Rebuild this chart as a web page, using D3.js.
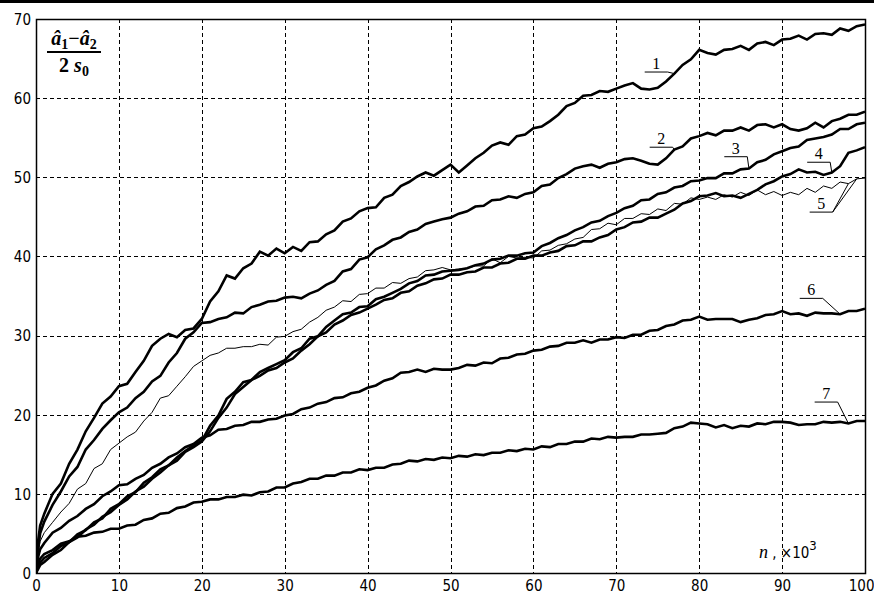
<!DOCTYPE html>
<html>
<head>
<meta charset="utf-8">
<script src="https://cdn.jsdelivr.net/npm/d3@7"></script>
<style>
  html, body { margin: 0; padding: 0; background: #fff; }
  svg { display: block; }
</style>
</head>
<body>
<svg id="chart" width="874" height="594"></svg>
<script>
// sample positions along n (thousands)
const nValues = [0, 0.25, 0.5,
  1, 2, 3, 4, 5, 6, 7, 8, 9, 10,
  11, 12, 13, 14, 15, 16, 17, 18, 19, 20,
  21, 22, 23, 24, 25, 26, 27, 28, 29, 30,
  31, 32, 33, 34, 35, 36, 37, 38, 39, 40,
  41, 42, 43, 44, 45, 46, 47, 48, 49, 50,
  51, 52, 53, 54, 55, 56, 57, 58, 59, 60,
  61, 62, 63, 64, 65, 66, 67, 68, 69, 70,
  71, 72, 73, 74, 75, 76, 77, 78, 79, 80,
  81, 82, 83, 84, 85, 86, 87, 88, 89, 90,
  91, 92, 93, 94, 95, 96, 97, 98, 99, 100];

const curve1 = [0, 4, 6,
  7.5, 10, 11.3, 13.8, 15.6, 17.9, 19.6, 21.4, 22.3, 23.6,
  23.9, 25.4, 26.8, 28.7, 29.6, 30.2, 29.8, 30.7, 30.9, 32.1,
  34.3, 35.6, 37.6, 37.2, 38.5, 39.1, 40.6, 40.1, 41, 40.4,
  41.2, 40.7, 41.8, 41.9, 42.8, 43.3, 44.4, 44.8, 45.7, 46.1,
  46.2, 47.4, 47.8, 48.9, 49.4, 50.1, 50.6, 50.2, 50.9, 51.6,
  50.6, 51.5, 52.4, 53.1, 54, 54.4, 54.1, 55.2, 55.4, 56.2,
  56.4, 57.1, 57.9, 59, 59.4, 60.3, 60.4, 60.9, 60.8, 61.2,
  61.6, 61.9, 61.2, 61.1, 61.3, 62.1, 63.1, 64.2, 64.9, 66.1,
  65.7, 65.5, 66.1, 66.2, 66.6, 66.1, 66.9, 67.1, 66.7, 67.4,
  67.5, 67.9, 67.4, 68.1, 68.2, 68, 68.8, 68.5, 69.1, 69.3];

const curve2 = [0, 3, 5,
  6.5, 8.6, 10.3, 12.2, 13.4, 15.6, 16.8, 18.2, 19.3, 20.3,
  20.9, 22.1, 22.9, 24.2, 24.9, 26.6, 27.8, 29.6, 30.4, 31.6,
  31.7, 32.1, 32.3, 32.9, 32.8, 33.6, 33.9, 34.3, 34.4, 34.8,
  34.9, 34.7, 35.3, 35.7, 36.4, 36.9, 38.1, 38.4, 39.6, 39.9,
  40.9, 41.4, 42.1, 42.4, 43.1, 43.4, 44.1, 44.4, 44.7, 44.9,
  45.4, 45.7, 46.3, 46.4, 47.1, 47.2, 47.6, 47.4, 47.9, 48.1,
  48.9, 49.1, 49.9, 50.4, 51.1, 51.4, 51.6, 51.2, 51.7, 51.9,
  52.3, 52.4, 52.1, 51.7, 51.6, 52.4, 53.5, 53.9, 54.9, 55.2,
  55.6, 55.3, 55.9, 55.9, 56.3, 55.9, 56.6, 56.7, 56.3, 56.7,
  56.1, 55.9, 56.2, 56.9, 56.3, 57.1, 57.4, 57.9, 57.9, 58.3];

const curve3 = [0, 0.8, 1.3,
  1.9, 2.5, 3.4, 3.9, 4.9, 5.4, 6.4, 6.9, 8.1, 8.7,
  9.7, 10.2, 11.4, 12.1, 13.1, 13.6, 14.6, 15.4, 16.1, 16.7,
  18.6, 19.9, 22, 22.9, 24.1, 24.4, 25.4, 25.9, 26.4, 26.9,
  27.9, 28.4, 29.6, 29.9, 31.1, 31.9, 32.7, 32.9, 33.6, 33.7,
  34.6, 34.9, 35.4, 35.9, 36.6, 36.9, 37.6, 37.7, 38.1, 38.2,
  38.3, 38.5, 38.9, 39.1, 39.6, 39.7, 40.1, 40.1, 40.4, 40.5,
  41.3, 41.7, 42.3, 42.7, 43.3, 43.7, 44.3, 44.5, 45.1, 45.5,
  46.1, 46.4, 47.1, 47.2, 47.9, 48.1, 48.7, 48.9, 49.5, 49.6,
  49.9, 49.9, 50.5, 50.5, 51, 51.1, 51.9, 52.2, 52.9, 53.3,
  53.7, 53.9, 54.7, 54.9, 55.1, 55.4, 56.1, 56.1, 56.7, 56.9];

const curve4 = [0, 0.5, 1,
  1.4, 2.3, 2.9, 3.9, 4.5, 5.5, 6.1, 7.1, 7.7, 8.6,
  9.3, 10.3, 10.9, 11.9, 12.7, 13.6, 14.2, 15.3, 15.9, 16.6,
  17.9, 19.6, 20.9, 22.6, 23.5, 24.4, 24.9, 25.6, 25.9, 26.6,
  27.1, 28.1, 28.9, 29.9, 30.4, 31.4, 31.9, 32.6, 32.9, 33.4,
  33.9, 34.5, 34.7, 35.4, 35.6, 36.3, 36.6, 37.1, 37.2, 37.7,
  37.7, 38, 38.1, 38.6, 38.6, 39.1, 39.2, 39.7, 39.7, 40.1,
  40.1, 40.5, 40.7, 41.3, 41.4, 41.9, 41.9, 42.4, 42.7, 43.4,
  43.7, 44.3, 44.4, 44.9, 44.9, 45.4, 45.9, 46.7, 47, 47.6,
  47.7, 48, 47.6, 47.7, 47.4, 47.9, 48.4, 49.1, 49.5, 50.1,
  50.4, 51, 50.6, 50.7, 50.3, 50.6, 51.4, 53.1, 53.4, 53.8];

const curve5 = [0, 2.5, 4,
  5.1, 6.4, 7.7, 8.8, 10.6, 11.3, 13.2, 13.8, 15.6, 16.4,
  17.2, 17.8, 19.2, 20.3, 22.1, 22.4, 23.6, 24.8, 26.1, 26.8,
  27.5, 27.8, 28.4, 28.4, 28.6, 28.6, 28.9, 28.8, 29.8, 29.9,
  30.5, 30.8, 31.7, 32.3, 33.2, 33.6, 34.4, 34.3, 35.2, 35.3,
  36, 36, 36.7, 36.6, 37.2, 37.4, 38.2, 38.3, 38.6, 38.3,
  38.4, 38.5, 38.8, 38.8, 39.7, 39.2, 40, 39.8, 39.9, 39.8,
  40.7, 40.8, 41.4, 41.6, 42.2, 42.4, 43.4, 43.5, 44.2, 44,
  44.8, 44.8, 45.4, 45.3, 46, 45.8, 46.7, 46.6, 47.4, 47.2,
  47.5, 47.2, 47.8, 47.5, 48.1, 47.7, 48.4, 47.8, 48.2, 47.7,
  48.1, 47.8, 48.6, 48.1, 48.9, 48.6, 49.4, 49.2, 49.8, 49.9];

const curve6 = [0, 2, 3,
  3.8, 5.1, 5.7, 6.6, 7.2, 8.1, 8.7, 9.7, 10.3, 11.1,
  11.2, 11.9, 12.4, 13.3, 13.8, 14.6, 15.1, 15.9, 16.3, 17.1,
  17.4, 18.1, 18.2, 18.6, 18.7, 19.1, 19.1, 19.4, 19.5, 19.9,
  20.1, 20.7, 20.9, 21.4, 21.6, 22.1, 22.2, 22.7, 22.9, 23.4,
  23.7, 24.3, 24.6, 25.3, 25.4, 25.7, 25.4, 25.8, 25.7, 25.7,
  25.9, 26.3, 26.2, 26.6, 26.5, 27.1, 27.2, 27.6, 27.7, 28.1,
  28.2, 28.6, 28.7, 29.1, 29.1, 29.4, 29.1, 29.5, 29.5, 29.8,
  29.7, 30.1, 30.1, 30.6, 30.7, 31.2, 31.4, 31.9, 32, 32.4,
  32, 32.1, 32.1, 32.1, 31.7, 32, 32.2, 32.6, 32.7, 33.1,
  32.7, 32.8, 32.5, 32.9, 32.8, 32.8, 32.7, 33.1, 33.1, 33.4];

const curve7 = [0, 1.2, 1.8,
  2.4, 2.9, 3.7, 4, 4.6, 4.7, 5.1, 5.2, 5.6, 5.6,
  6, 6.1, 6.7, 6.9, 7.5, 7.6, 8.2, 8.4, 8.9, 9,
  9.3, 9.3, 9.6, 9.6, 9.9, 9.8, 10.2, 10.3, 10.8, 10.8,
  11.3, 11.5, 11.9, 11.9, 12.3, 12.3, 12.7, 12.7, 13.1, 13,
  13.3, 13.3, 13.7, 13.8, 14.2, 14.1, 14.4, 14.3, 14.6, 14.5,
  14.8, 14.7, 15, 14.9, 15.2, 15.2, 15.5, 15.4, 15.7, 15.6,
  16, 15.9, 16.3, 16.3, 16.6, 16.6, 17, 16.9, 17.2, 17.1,
  17.2, 17.2, 17.5, 17.5, 17.6, 17.7, 18.3, 18.5, 19, 18.9,
  18.8, 18.4, 18.7, 18.3, 18.6, 18.5, 18.9, 18.8, 19.1, 19.1,
  19, 18.7, 18.8, 18.8, 19.1, 19, 19.1, 18.9, 19.2, 19.2];

const seriesLabels = ["1", "2", "3", "4", "5", "6", "7"];
const xTickValues = [0, 10, 20, 30, 40, 50, 60, 70, 80, 90, 100];
const yTickValues = [0, 10, 20, 30, 40, 50, 60, 70];

// callout for each curve: where the leader touches the curve (n),
// and the right end of the underline under the number (n, value)
const calloutTouch = [77, 77, 86, 96, 98, 97, 98];
const calloutShelf = [[76.2, 63.3], [76.8, 53.8], [85.8, 52.6], [95.8, 51.9], [96.1, 45.6], [94.9, 34.7], [96.7, 21.6]];

const allSeries = [curve1, curve2, curve3, curve4, curve5, curve6, curve7];

const svg = d3.select("#chart");
const W = 874, H = 594;
const plot = { left: 36, right: 865, top: 19, bottom: 573 };

const x = d3.scaleLinear().domain([0, 100]).range([plot.left, plot.right]);
const y = d3.scaleLinear().domain([0, 70]).range([plot.bottom, plot.top]);

const tickFont = "'Liberation Sans Narrow', 'Arial Narrow', 'DejaVu Sans Condensed', sans-serif";
const serif = "'Liberation Serif', 'Times New Roman', 'DejaVu Serif', serif";

svg.append("rect").attr("x", 0).attr("y", 0).attr("width", W).attr("height", H).attr("fill", "#fff");
// heavy rule along the top edge
svg.append("rect").attr("x", 0).attr("y", 0).attr("width", W).attr("height", 3).attr("fill", "#000");

svg.append("defs").append("clipPath").attr("id", "plotClip")
  .append("rect")
  .attr("x", plot.left).attr("y", plot.top)
  .attr("width", plot.right - plot.left).attr("height", plot.bottom - plot.top);

// dashed grid
const grid = svg.append("g").attr("stroke", "#000").attr("stroke-width", 1)
  .attr("stroke-dasharray", "4,3").attr("shape-rendering", "crispEdges");
grid.selectAll("line.v").data(xTickValues.filter(v => v > 0 && v < 100)).join("line")
  .attr("class", "v")
  .attr("x1", d => Math.round(x(d)) + 0.5).attr("x2", d => Math.round(x(d)) + 0.5)
  .attr("y1", plot.top).attr("y2", plot.bottom);
grid.selectAll("line.h").data(yTickValues.filter(v => v > 0 && v < 70)).join("line")
  .attr("class", "h")
  .attr("y1", d => Math.round(y(d)) + 0.5).attr("y2", d => Math.round(y(d)) + 0.5)
  .attr("x1", plot.left).attr("x2", plot.right);

// axes (labels only; frame drawn separately)
const xAxis = d3.axisBottom(x).tickValues(xTickValues).tickSize(0).tickPadding(0).tickFormat(d3.format("d"));
const gx = svg.append("g").attr("transform", `translate(0,${plot.bottom})`).call(xAxis);
gx.select(".domain").remove();
gx.selectAll("text")
  .attr("y", 18)
  .attr("dy", 0)
  .style("font-family", tickFont).style("font-size", "15px").attr("fill", "#000");
gx.selectAll(".tick").filter(d => d === 100).select("text").attr("text-anchor", "end").attr("x", 9);

const yAxis = d3.axisLeft(y).tickValues(yTickValues).tickSize(0).tickPadding(0).tickFormat(d3.format("d"));
const gy = svg.append("g").attr("transform", `translate(${plot.left},0)`).call(yAxis);
gy.select(".domain").remove();
gy.selectAll("text")
  .attr("x", -5)
  .attr("dy", "0.36em")
  .style("font-family", tickFont).style("font-size", "15px").attr("fill", "#000");

// curves
const line = d3.line().x((d, i) => x(nValues[i])).y(d => y(d));
svg.append("g").attr("clip-path", "url(#plotClip)")
  .selectAll("path").data(allSeries).join("path")
  .attr("d", d => line(d))
  .attr("fill", "none")
  .attr("stroke", "#000")
  .attr("stroke-width", (d, i) => i === 4 ? 1 : 2.6)
  .attr("stroke-linejoin", "miter");

// frame
svg.append("rect")
  .attr("x", plot.left + 0.5).attr("y", plot.top + 0.5)
  .attr("width", plot.right - plot.left).attr("height", plot.bottom - plot.top)
  .attr("fill", "none").attr("stroke", "#000").attr("stroke-width", 1.5);

// numbered callouts
const valueAt = (series, n) => series[nValues.indexOf(n)];
const callouts = svg.append("g").attr("stroke", "#000").attr("fill", "none").attr("stroke-width", 1);
seriesLabels.forEach((lab, i) => {
  const sx = x(calloutShelf[i][0]), sy = y(calloutShelf[i][1]);
  const shelfLen = 23;
  callouts.append("line").attr("x1", sx - shelfLen).attr("x2", sx).attr("y1", sy).attr("y2", sy);
  const touches = i === 4 ? [calloutTouch[i], 99] : [calloutTouch[i]];
  touches.forEach(n => {
    callouts.append("line")
      .attr("x1", sx).attr("y1", sy)
      .attr("x2", x(n)).attr("y2", y(valueAt(allSeries[i], n)));
  });
  svg.append("text")
    .attr("x", sx - shelfLen / 2).attr("y", sy - 3)
    .attr("text-anchor", "middle")
    .style("font-family", serif).style("font-size", "16px")
    .attr("fill", "#000")
    .text(lab);
});

// y quantity in the top-left corner
const q = svg.append("g").attr("fill", "#000").style("font-family", serif).style("font-weight", "bold");
const num = q.append("text").attr("x", 74).attr("y", 45).attr("text-anchor", "middle").style("font-size", "20px");
num.append("tspan").style("font-style", "italic").text("â");
num.append("tspan").style("font-size", "14px").attr("dy", 4).text("1");
num.append("tspan").attr("dy", -4).text("−");
num.append("tspan").style("font-style", "italic").text("â");
num.append("tspan").style("font-size", "14px").attr("dy", 4).text("2");
q.append("line").attr("x1", 47).attr("x2", 101).attr("y1", 52).attr("y2", 52)
  .attr("stroke", "#000").attr("stroke-width", 2);
const den = q.append("text").attr("x", 74).attr("y", 72).attr("text-anchor", "middle").style("font-size", "20px");
den.append("tspan").text("2 ");
den.append("tspan").style("font-style", "italic").text("s");
den.append("tspan").style("font-size", "14px").attr("dy", 4).text("0");

// n-axis quantity
const nl = svg.append("text").attr("x", 759).attr("y", 558).attr("fill", "#000").style("font-size", "15px");
nl.append("tspan").style("font-family", serif).style("font-style", "italic").style("font-size", "18px").text("n");
nl.append("tspan").style("font-family", tickFont).text(" , ×10");
nl.append("tspan").style("font-family", tickFont).style("font-size", "13px").attr("dy", -8).text("3");
</script>
</body>
</html>
